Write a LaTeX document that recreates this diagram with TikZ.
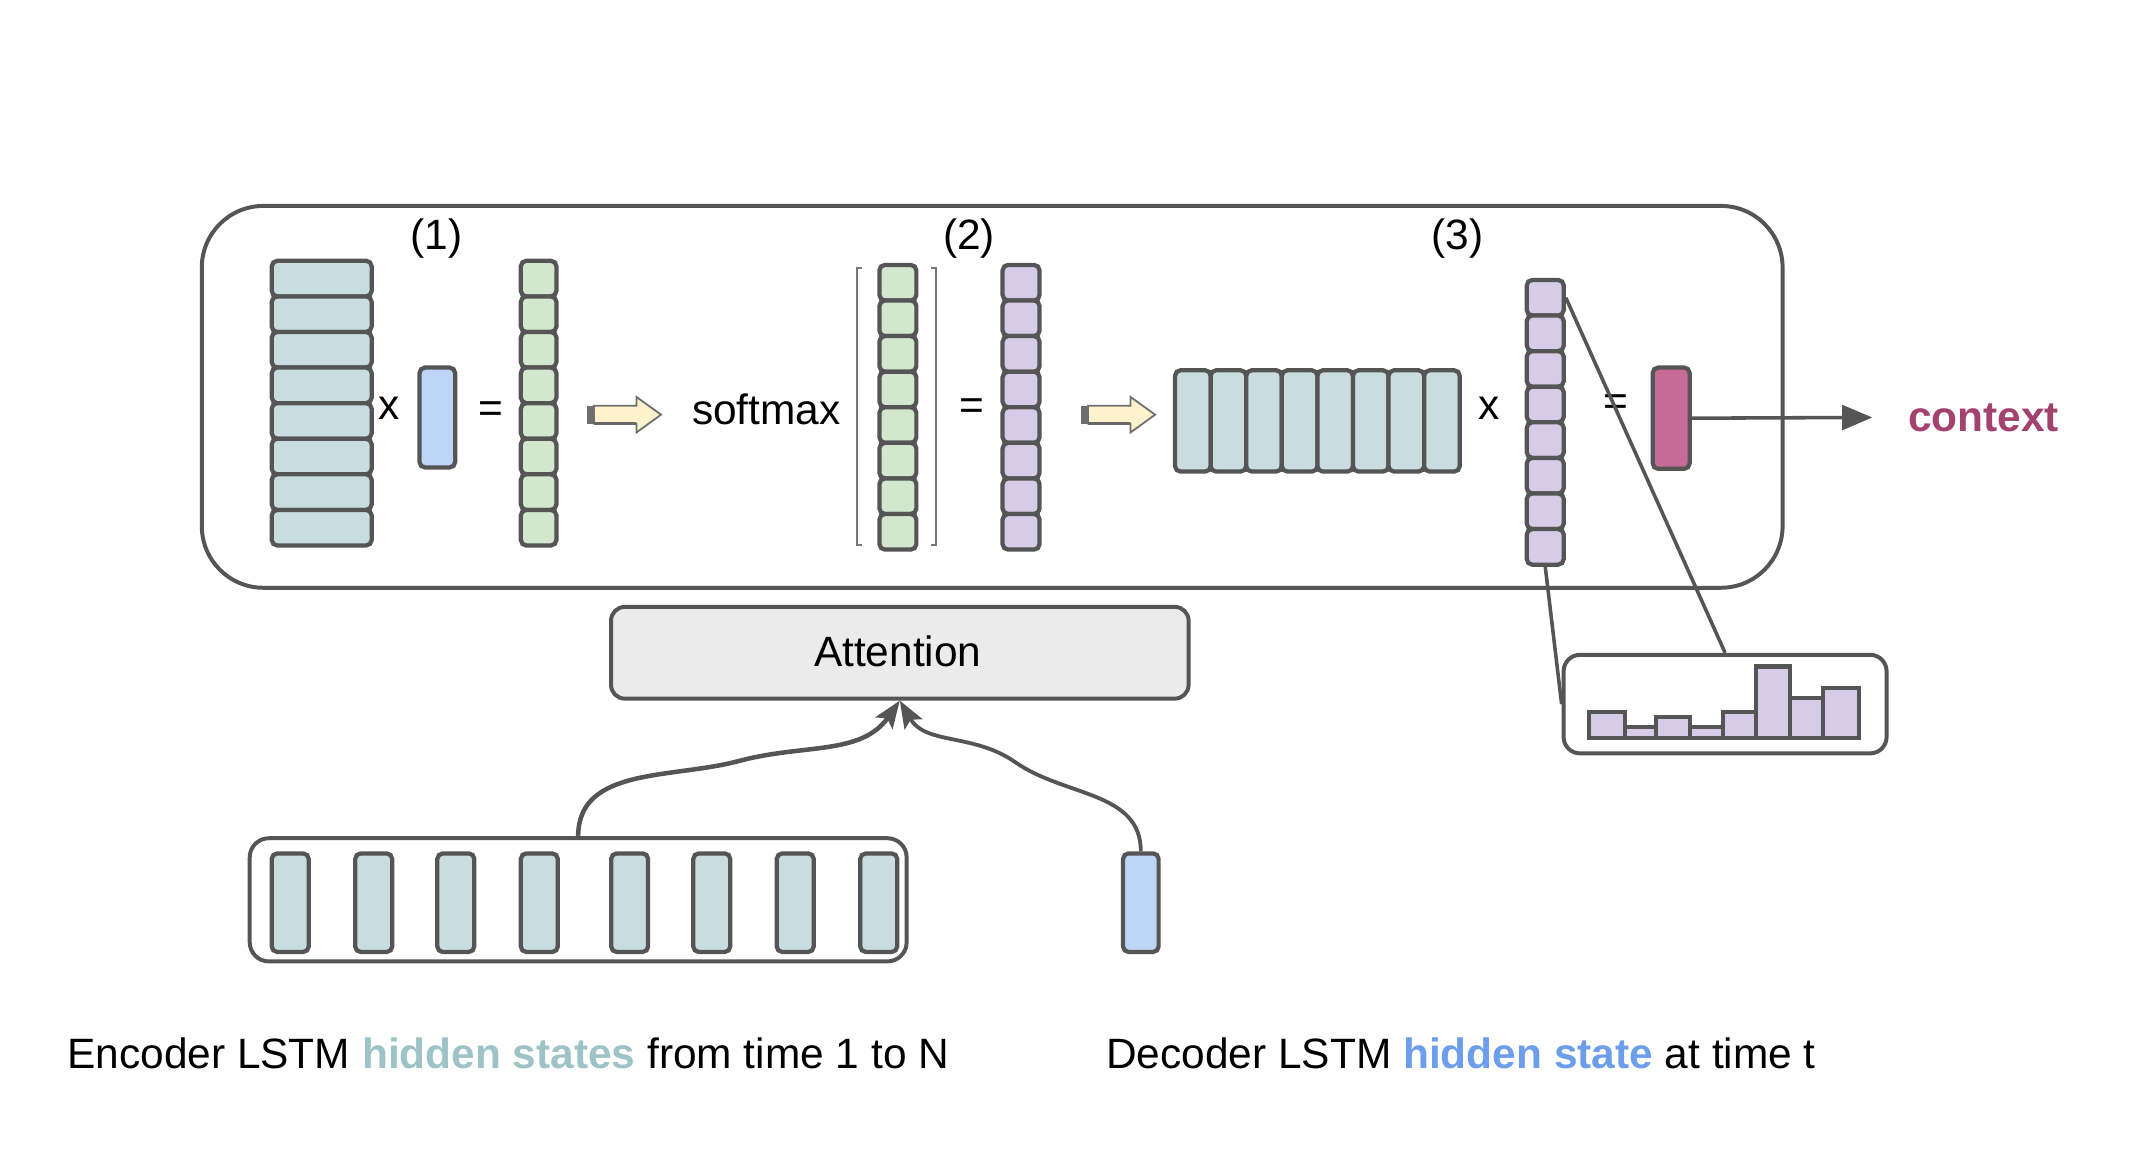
\documentclass[tikz,border=0pt]{standalone}
\usepackage{fontspec}
\setmainfont{Liberation Sans}
\usetikzlibrary{arrows.meta}
\definecolor{strokec}{HTML}{555555}
\definecolor{matc}{HTML}{C9DCDF}
\definecolor{grnc}{HTML}{D2E7CD}
\definecolor{bluc}{HTML}{BFD5F7}
\definecolor{purc}{HTML}{D6CCE8}
\definecolor{yelc}{HTML}{FFF2CC}
\definecolor{pinkc}{HTML}{C66A98}
\definecolor{ctxc}{HTML}{A3416F}
\definecolor{hsenc}{HTML}{9DC3C6}
\definecolor{hsdec}{HTML}{6D9EEB}
\definecolor{attc}{HTML}{EBEBEB}
\newcommand\myyarrow[3]{%
  \fill[strokec!85] (#1,#2-6.5) rectangle (#1+5,#2+6.5);
  \draw[draw=strokec!85, fill=yelc, line width=1.3pt, line join=miter]
    (#1+5,#2-6.5) -- (#1+36,#2-6.5) -- (#1+36,#2-13) -- (#1+54,#2) --
    (#1+36,#2+13) -- (#1+36,#2+6.5) -- (#1+5,#2+6.5) -- cycle;
  \draw[strokec!90, line width=1.8pt] (#1+5,#2+6.5) -- (#1+36,#2+6.5);
  \coordinate (#3) at (#1+27,#2);
}
\begin{document}
\begin{tikzpicture}[x=1pt,y=-1pt,
  cell/.style={draw=strokec, line width=3.1pt, rounded corners=4pt, inner sep=0pt, anchor=north west},
  bigbox/.style={draw=strokec, line width=2.9pt, inner sep=0pt, anchor=north west},
  lbl/.style={font=\fontsize{31}{37}\selectfont, inner sep=0pt, text=black},
  conn/.style={draw=strokec, line width=2.6pt},
  brk/.style={draw=strokec!80, line width=1.4pt},
  bar/.style={draw=strokec, fill=purc, line width=3pt, line join=miter}
]
\useasboundingbox (0,0) rectangle (1568,841.7);

% outer box
\node[bigbox, rounded corners=45pt, minimum width=1155pt, minimum height=279pt] (outer) at (146,149) {};

% (1)
\foreach \i in {0,...,7}
  \node[cell, fill=matc, minimum width=73pt, minimum height=26pt] (m1r\i) at (197,{189+\i*26}) {};
\node[cell, fill=bluc, minimum width=26pt, minimum height=73pt] (blu1) at (305,267) {};
\foreach \i in {0,...,7}
  \node[cell, fill=grnc, minimum width=26pt, minimum height=26pt] (g1c\i) at (379,{189+\i*26}) {};
\node[lbl] (lab1) at (319,174) {(1)};
\node[lbl] (times1) at (284,298) {x};
\node[lbl] (eq1) at (359,301) {=};
\myyarrow{429}{303}{ya1}

% (2)
\node[lbl] (softmax) at (560,299) {softmax};
\draw[brk] (630,196) -- (626,196) -- (626,398) -- (630,398);
\draw[brk] (680,196) -- (684,196) -- (684,398) -- (680,398);
\foreach \i in {0,...,7}
  \node[cell, fill=grnc, minimum width=27pt, minimum height=26pt] (g2c\i) at (641,{192+\i*26}) {};
\node[lbl] (lab2) at (708,174) {(2)};
\node[lbl] (eq2) at (710,299) {=};
\foreach \i in {0,...,7}
  \node[cell, fill=purc, minimum width=27pt, minimum height=26pt] (p2c\i) at (731,{192+\i*26}) {};
\myyarrow{790}{303}{ya2}

% (3)
\foreach \i in {0,...,7}
  \node[cell, fill=matc, minimum width=26pt, minimum height=74pt] (hm\i) at ({857+\i*26},269) {};
\node[lbl] (times3) at (1088,298) {x};
\node[lbl] (lab3) at (1065,174) {(3)};
\foreach \i in {0,...,7}
  \node[cell, fill=purc, minimum width=27pt, minimum height=26pt] (p3c\i) at (1114,{203+\i*26}) {};
\node[lbl] (eq3) at (1181,296) {=};
\node[cell, fill=pinkc, minimum width=27pt, minimum height=74pt] (pink) at (1206,267) {};

% context
\node[lbl, font=\fontsize{31}{37}\selectfont\bfseries, text=ctxc, anchor=base west] (ctx) at (1394,315) {context};
\coordinate (ctxtip) at (1368,305);
\draw[conn, -{Triangle[length=22pt,width=18pt]}] (pink.east) -- (ctxtip);

% histogram
\node[bigbox, rounded corners=12pt, minimum width=236pt, minimum height=72pt, fill=white] (hist) at (1141,477) {};
\foreach \a/\b/\t in {1161/1187/520, 1187/1210/531, 1210/1235/524, 1235/1259/531, 1259/1283/520, 1283/1308/487, 1308/1332/510, 1332/1358/503}
  \draw[bar] (\a,539.5) rectangle (\b,\t);
\draw[conn] (p3c0.east) -- (hist.north);
\draw[conn] (p3c7.south) -- (hist.west);

% attention
\node[bigbox, rounded corners=10pt, fill=attc, minimum width=422pt, minimum height=67pt] (att) at (445,442) {};
\node[lbl] (atttxt) at (656,476) {Attention};

% encoder
\node[bigbox, rounded corners=14pt, minimum width=480pt, minimum height=90pt] (enc) at (181,611) {};
\foreach \x [count=\k] in {197,258,318,379,445,505,566,627}
  \node[cell, fill=matc, minimum width=27pt, minimum height=72pt] (e\k) at (\x,622) {};
\node[cell, fill=bluc, minimum width=26pt, minimum height=72pt] (dec) at (819,622) {};

\draw[conn, line width=3.3pt, -{Stealth[length=20pt,width=15pt,inset=4pt]}]
  (enc.north) to[out=90,in=195] (540,556) to[out=15,in=235] (att.south);
\draw[conn, line width=2.8pt, -{Stealth[length=20pt,width=15pt,inset=4pt]}]
  (dec.north) to[out=90,in=-35] (742,557) to[out=145,in=-60] (att.south);

% captions
\node[lbl, anchor=base west] (enccap) at (49,781) {Encoder LSTM \textcolor{hsenc}{\bfseries hidden states} from time 1 to N};
\node[lbl, anchor=base west] (deccap) at (808,781) {Decoder LSTM \textcolor{hsdec}{\bfseries hidden state} at time t};
\end{tikzpicture}
\end{document}
